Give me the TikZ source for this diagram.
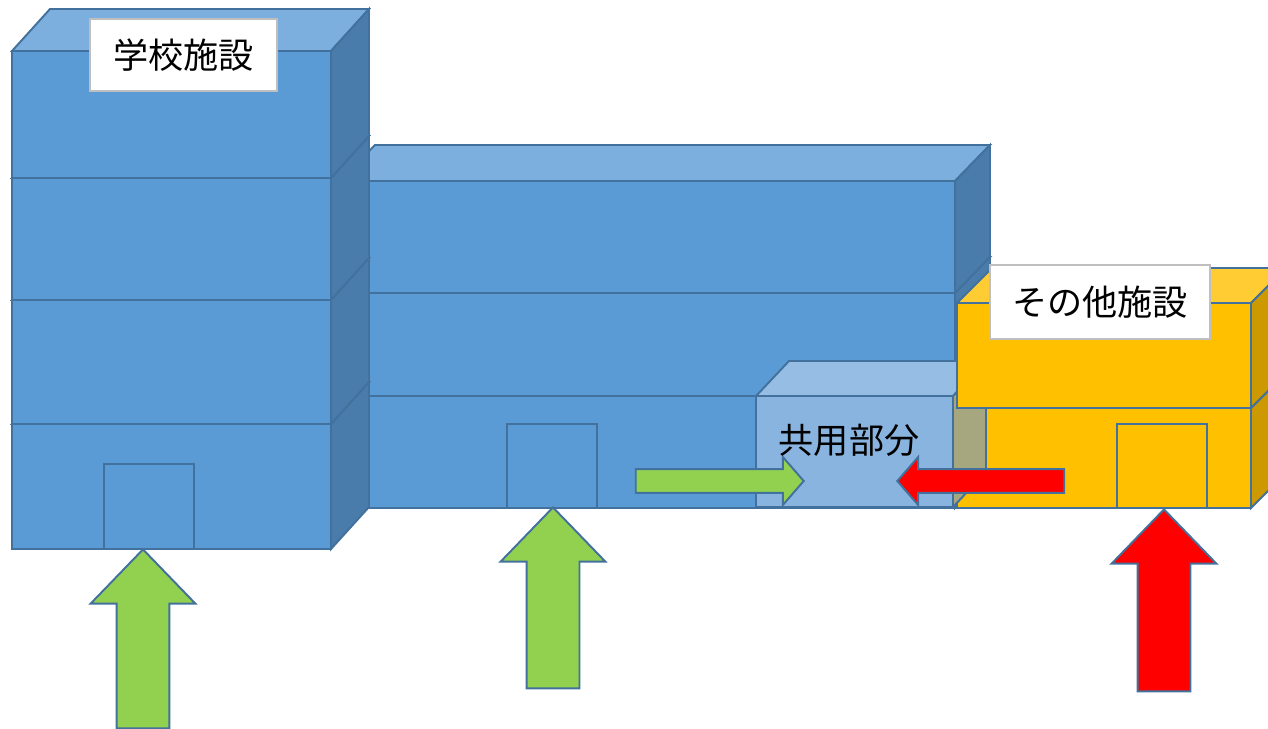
\documentclass[tikz,border=0pt]{standalone}
\usepackage{fontspec}
\newfontfamily\jpfont{Noto Sans CJK JP}
\usetikzlibrary{shapes.arrows}

\definecolor{edge}{HTML}{41719C}
\definecolor{signgray}{HTML}{BFBFBF}
\definecolor{bluefront}{HTML}{5B9BD5}
\definecolor{bluetop}{HTML}{7CAFDD}
\definecolor{blueside}{HTML}{497CAA}
\definecolor{sharedfront}{HTML}{8AB4E0}
\definecolor{sharedtop}{HTML}{96BEE4}
\definecolor{sharedside}{HTML}{A6A67F}
\definecolor{annexfront}{HTML}{FFC000}
\definecolor{annextop}{HTML}{FFCD33}
\definecolor{annexside}{HTML}{CC9A00}
\definecolor{walkgreen}{HTML}{92D050}
\definecolor{walkred}{HTML}{FF0000}

\tikzstyle{wall}=[draw=edge, line width=1.1pt]
\tikzstyle{door}=[draw=edge, line width=1.1pt]
\tikzstyle{sign}=[draw=signgray, fill=white, line width=1pt,
  font=\jpfont\fontsize{20}{24}\selectfont]
\tikzstyle{uparrow}=[single arrow, draw=edge, line width=1.1pt, rotate=90,
  anchor=tip, inner xsep=0pt, inner ysep=0.51cm, minimum width=2.06cm,
  single arrow head extend=0.52cm, single arrow tip angle=88]
\tikzstyle{sidearrow}=[single arrow, draw=edge, line width=1.1pt,
  anchor=tip, inner xsep=0pt, inner ysep=0.22cm, minimum width=0.92cm,
  single arrow head extend=0.24cm, single arrow tip angle=98]

% one box of a building: left, top, right, bottom, depth x, depth y, colour
\newcommand{\blockcube}[7]{%
  \draw[wall, fill=#7front] (#1,#2) rectangle (#3,#4);
  \draw[wall, fill=#7top] (#1,#2) -- ++(#5,-#6) -- ++(#3-#1,0) -- (#3,#2) -- cycle;
  \draw[wall, fill=#7side] (#3,#2) -- ++(#5,-#6) -- ++(0,#4-#2) -- (#3,#4) -- cycle;
}

\begin{document}
\begin{tikzpicture}[x=0.02cm, y=-0.02cm, line join=miter]
  \useasboundingbox (0,0) rectangle (1268,729);
  \clip (0,0) rectangle (1268,729);

  % long wing
  \blockcube{340}{396}{955}{508}{35}{36}{blue}
  \blockcube{340}{293}{955}{396}{35}{36}{blue}
  \blockcube{340}{181}{955}{293}{35}{36}{blue}

  % tower
  \blockcube{12}{424}{331}{549}{38}{42}{blue}
  \blockcube{12}{300}{331}{424}{38}{42}{blue}
  \blockcube{12}{178}{331}{300}{38}{42}{blue}
  \blockcube{12}{51}{331}{178}{38}{42}{blue}

  % other facility, shared part in between
  \blockcube{957}{408}{1251}{508}{35}{35}{annex}
  \blockcube{756}{396}{953}{507}{33}{35}{shared}
  \blockcube{957}{303}{1251}{408}{35}{35}{annex}

  % entrances
  \draw[door, fill=bluefront]  (104,464) rectangle (194,549);
  \draw[door, fill=bluefront]  (507,424) rectangle (597,508);
  \draw[door, fill=annexfront] (1117,424) rectangle (1207,508);

  % flows
  \node[uparrow, fill=walkgreen, minimum height=3.58cm] (inA) at (143,548) {};
  \node[uparrow, fill=walkgreen, minimum height=3.62cm] (inB) at (553,506) {};
  \node[uparrow, fill=walkred, minimum height=3.64cm] (inC) at (1164,508) {};
  \node[sidearrow, fill=walkgreen, minimum height=3.36cm] (toshared) at (805,481) {};
  \node[sidearrow, fill=walkred, rotate=180, minimum height=3.34cm] (fromother) at (896,481) {};

  % labels
  \node[sign, minimum width=3.74cm, minimum height=1.44cm] (school) at (183.5,55) {学校施設};
  \node[sign, minimum width=4.4cm, minimum height=1.48cm] (other) at (1100,302) {その他施設};
  \node[font=\jpfont\fontsize{20}{24}\selectfont] (shared) at (849,440) {共用部分};
\end{tikzpicture}
\end{document}
